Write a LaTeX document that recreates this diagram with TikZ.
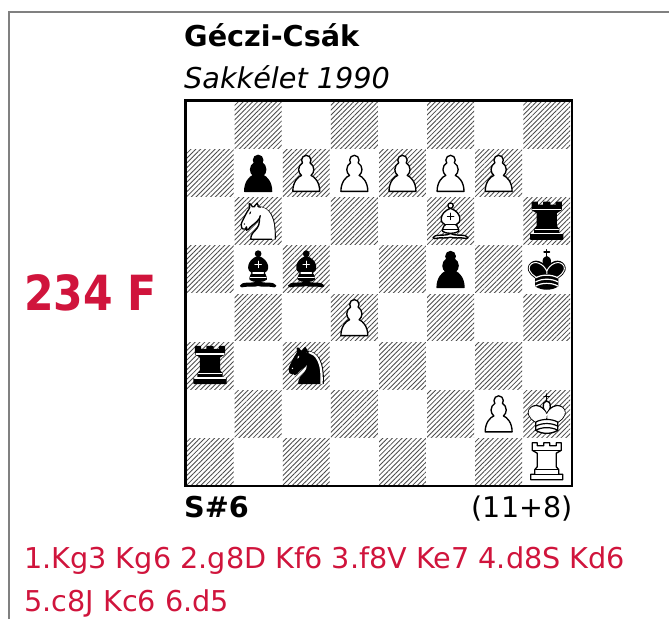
\documentclass[tikz,border=0pt]{standalone}
\usepackage{fontspec}
\setmainfont{DejaVu Sans}
\usetikzlibrary{patterns.meta, svg.path}
\definecolor{solred}{HTML}{D0143C}

\tikzset{
    label/.style={inner sep=0pt, anchor=base west},
    pcline/.style={draw=black, fill=pfg, line width=1.35pt, line join=round, line cap=round},
    pcdetail/.style={draw=pdt, line width=1.2pt, line join=round, line cap=round},
    dark/.style={pattern={Lines[angle=45, distance=3.4pt, line width=0.85pt]}, pattern color=black!70},
    pics/pawn/.style={code={
        \begin{scope}[xscale=1.17, yscale=-1.18, shift={(-22.5,-24.1)}]
            \draw[pcline] svg {M 22.5,9 C 20.29,9 18.5,10.79 18.5,13 C 18.5,13.89 18.79,14.71 19.28,15.38 C 17.33,16.5 16,18.59 16,21 C 16,23.03 16.94,24.84 18.41,26.03 C 15.41,27.09 11,31.58 11,39.5 L 34,39.5 C 34,31.58 29.59,27.09 26.59,26.03 C 28.06,24.84 29,23.03 29,21 C 29,18.59 27.67,16.5 25.72,15.38 C 26.21,14.71 26.5,13.89 26.5,13 C 26.5,10.79 24.71,9 22.5,9 Z};
        \end{scope}}},
    pics/knight/.style={code={
        \begin{scope}[xscale=1.06, yscale=-1.12, shift={(-22,-23)}]
            \draw[pcline] svg {M 22,10 C 32.5,11 38.5,18 38,39 L 15,39 C 15,30 25,32.5 23,18};
            \draw[pcline] svg {M 24,18 C 24.38,20.91 18.45,25.37 16,27 C 13,29 13.18,31.34 11,31 C 9.958,30.06 12.41,27.96 11,28 C 10,28 11.19,29.23 10,30 C 9,30 5.997,31 6,26 C 6,24 12,14 12,14 C 12,14 13.89,12.1 14,10.5 C 13.27,9.506 13.5,8.5 13.5,7.5 C 14.5,6.5 16.5,10 16.5,10 L 18.5,10 C 18.5,10 19.28,8.008 21,7 C 22,7 22,10 22,10};
            \fill[pdt] (9,25.5) circle[radius=0.7];
            \fill[pdt, rotate around={30:(14.5,15.5)}] (14.5,15.5) ellipse[x radius=0.7, y radius=1.6];
            \fill[white] svg {M 24.55,10.4 L 24.1,11.85 L 24.6,12 C 27.75,13 30.25,14.49 32.5,18.75 C 34.75,23.01 35.75,29.06 35.25,39 L 35.2,39.5 L 37.45,39.5 L 37.5,39 C 38,28.94 36.62,22.15 34.25,17.66 C 31.88,13.17 28.46,11.02 25.06,10.5 Z};
        \end{scope}}},
    pics/bishop/.style={code={
        \begin{scope}[xscale=1.06, yscale=-1.07, shift={(-22.5,-22.6)}]
            \draw[pcline] svg {M 9,36 C 12.39,35.03 19.11,36.43 22.5,34 C 25.89,36.43 32.61,35.03 36,36 C 36,36 37.65,36.54 39,38 C 38.32,38.97 37.35,38.99 36,38.5 C 32.61,37.53 25.89,38.96 22.5,37.5 C 19.11,38.96 12.39,37.53 9,38.5 C 7.65,38.99 6.68,38.97 6,38 C 7.35,36.06 9,36 9,36 Z};
            \draw[pcline] svg {M 15,32 C 17.5,34.5 27.5,34.5 30,32 C 30.5,30.5 30,30 30,30 C 30,27.5 27.5,26 27.5,26 C 33,24.5 33.5,14.5 22.5,10.5 C 11.5,14.5 12,24.5 17.5,26 C 17.5,26 15,27.5 15,30 C 15,30 14.5,30.5 15,32 Z};
            \draw[pcline] (22.5,8) circle[radius=2.5];
            \draw[pcdetail] svg {M 17.5,26 L 27.5,26 M 15,30 L 30,30 M 22.5,15 L 22.5,21 M 19.5,18 L 25.5,18};
        \end{scope}}},
    pics/rook/.style={code={
        \begin{scope}[yscale=-1]
            \draw[pcline] svg {M -14.5,-19 L -9.5,-19 L -9.5,-16 L -3,-16 L -3,-19 L 3,-19 L 3,-16 L 9.5,-16 L 9.5,-19 L 14.5,-19 L 14.5,-11.5 L 9.5,-8.5 L 9.5,5 L 12,8 L 12,12.5 L 16,12.5 L 16,18 L -16,18 L -16,12.5 L -12,12.5 L -12,8 L -9.5,5 L -9.5,-8.5 L -14.5,-11.5 Z};
            \draw[pcdetail] svg {M -14,-11.5 L 14,-11.5 M -11.5,8 L 11.5,8 M -15.5,12.5 L 15.5,12.5};
        \end{scope}}},
    pics/king/.style={code={
        \begin{scope}[xscale=1.1, yscale=-1.17, shift={(-22.5,-22.8)}]
            \draw[pcline] svg {M 22.5,11.63 L 22.5,6 M 20,8 L 25,8};
            \draw[pcline] svg {M 22.5,25 C 22.5,25 27,17.5 25.5,14.5 C 25.5,14.5 24.5,12 22.5,12 C 20.5,12 19.5,14.5 19.5,14.5 C 18,17.5 22.5,25 22.5,25};
            \draw[pcline] svg {M 12.5,37 C 18,40.5 27,40.5 32.5,37 L 32.5,30 C 32.5,30 41.5,25.5 38.5,19.5 C 34.5,13 25,16 22.5,23.5 L 22.5,27 L 22.5,23.5 C 20,16 10.5,13 6.5,19.5 C 3.5,25.5 12.5,30 12.5,30 L 12.5,37};
            \draw[white, line width=1pt] svg {M 32,29.5 C 32,29.5 40.5,25.5 38.03,19.85 C 34.15,14 25,18 22.5,24.5 L 22.5,26.6 L 22.5,24.5 C 20,18 10.85,14 6.97,19.85 C 4.5,25.5 13,29.5 13,29.5};
            \draw[pcdetail] svg {M 12.5,30 C 18,27 27,27 32.5,30 M 12.5,33.5 C 18,30.5 27,30.5 32.5,33.5 M 12.5,37 C 18,34 27,34 32.5,37};
        \end{scope}}}
}

\begin{document}
\begin{tikzpicture}[x=1pt, y=1pt]
    \def\sq{48.1};
    \def\bx{186};
    \def\by{-101};
    \useasboundingbox (0,0) rectangle (669,-619);

    % frame
    \draw[line width=2pt, black!50] (9,-619) -- (9,-12) -- (669,-12);

    % squares
    \foreach \c in {0,...,7}
        \foreach \r in {0,...,7} {
            \pgfmathparse{int(mod(\c+\r,2))}
            \ifnum\pgfmathresult=1
                \fill[dark] ({\bx+\c*\sq+0.6},{\by-\r*\sq-0.6}) rectangle ({\bx+(\c+1)*\sq-0.6},{\by-(\r+1)*\sq+0.6});
            \fi
        }
    \draw[line width=2.2pt] (\bx-0.5,\by+0.5) rectangle ({\bx+8*\sq+1},{\by-8*\sq-0.5});

    % white pieces
    \colorlet{pfg}{white}
    \colorlet{pdt}{black}
    \foreach \nm/\c/\r/\kind in {pc7/2/1/pawn, pd7/3/1/pawn, pe7/4/1/pawn, pf7/5/1/pawn, pg7/6/1/pawn,
                                 nb6/1/2/knight, bf6/5/2/bishop, pd4/3/4/pawn, pg2/6/6/pawn,
                                 kh2/7/6/king, rh1/7/7/rook}
        \pic (\nm) at ({\bx+(\c+0.5)*\sq},{\by-(\r+0.5)*\sq}) {\kind};
    % black pieces
    \colorlet{pfg}{black}
    \colorlet{pdt}{white}
    \foreach \nm/\c/\r/\kind in {pb7/1/1/pawn, rh6/7/2/rook, bb5/1/3/bishop, bc5/2/3/bishop, pf5/5/3/pawn,
                                 kh5/7/3/king, ra3/0/5/rook, nc3/2/5/knight}
        \pic (\nm) at ({\bx+(\c+0.5)*\sq},{\by-(\r+0.5)*\sq}) {\kind};

    % texts
    \node[label, font=\fontsize{28.7}{29}\selectfont\bfseries] (author) at (184,-46) {Géczi-Csák};
    \node[label, font=\fontsize{28.7}{29}\selectfont\itshape] (source) at (184,-88) {Sakkélet 1990};
    \node[label, transform shape, yscale=1.14, font=\fontsize{42.5}{43}\selectfont\bfseries, text=solred] (number) at (24,-310) {234 F};
    \node[label, font=\fontsize{28.7}{29}\selectfont\bfseries] (stip) at (184,-517) {S\#6};
    \node[label, anchor=base east, font=\fontsize{28.5}{29}\selectfont] (count) at (572.5,-517) {(11+8)};
    \node[label, font=\fontsize{28.7}{29}\selectfont, text=solred] (sol1) at (24,-568) {1.Kg3 Kg6 2.g8D Kf6 3.f8V Ke7 4.d8S Kd6};
    \node[label, font=\fontsize{28.7}{29}\selectfont, text=solred] (sol2) at (24,-611) {5.c8J Kc6 6.d5};
\end{tikzpicture}
\end{document}
